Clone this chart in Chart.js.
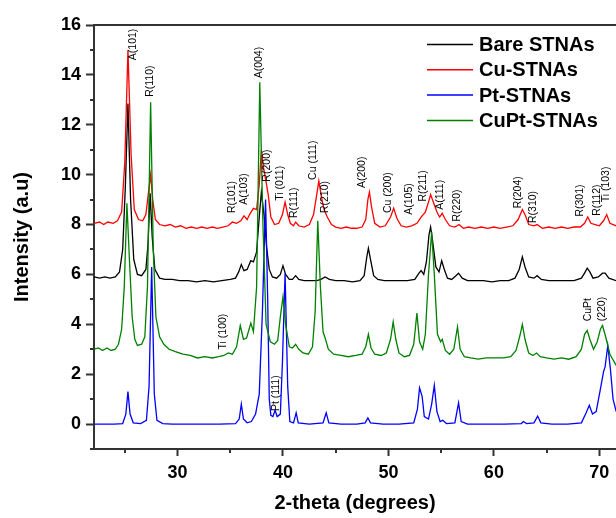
<!DOCTYPE html>
<html lang="en">
<head>
<meta charset="UTF-8">
<title>XRD patterns of STNAs</title>
<style>
  html, body { margin: 0; padding: 0; background: #fff; }
  #wrap { width: 616px; height: 518px; }
</style>
</head>
<body>
<div id="wrap"><canvas id="xrdChart" width="616" height="518"></canvas></div>
<script src="https://cdn.jsdelivr.net/npm/chart.js"></script>
<script>
// [2-theta, intensity] pairs (curves already stacked with offsets)
const bareSTNAs = [
  [22.1, 5.9], [22.6, 5.85], [23.1, 5.9], [23.6, 5.85], [24.1, 5.9], [24.5, 6.1], [24.8, 7.0], [25.05, 9.5],
  [25.3, 12.85], [25.55, 9.0], [25.85, 6.6], [26.2, 6.0], [26.6, 5.95], [27.0, 6.2], [27.2, 7.2], [27.4, 9.25],
  [27.6, 7.5], [27.85, 6.2], [28.3, 5.85], [28.8, 5.8], [29.5, 5.8], [30.2, 5.75], [31.0, 5.75], [31.8, 5.7],
  [32.6, 5.75], [33.4, 5.7], [34.2, 5.75], [35.0, 5.8], [35.5, 5.85], [35.8, 6.1], [36.05, 6.4], [36.3, 6.15],
  [36.6, 6.2], [36.95, 6.55], [37.2, 6.5], [37.5, 6.9], [37.75, 8.3], [37.95, 9.3], [38.2, 8.4], [38.45, 7.1],
  [38.7, 6.2], [39.0, 5.9], [39.4, 5.85], [39.75, 6.0], [40.0, 6.35], [40.25, 6.0], [40.6, 5.8], [40.9, 5.8],
  [41.2, 5.95], [41.5, 5.8], [42.0, 5.75], [42.6, 5.75], [43.2, 5.75], [43.6, 5.8], [44.0, 5.9], [44.4, 5.8],
  [45.0, 5.75], [45.8, 5.75], [46.6, 5.7], [47.3, 5.75], [47.7, 5.95], [47.95, 6.7], [48.1, 7.05], [48.3, 6.6],
  [48.6, 5.95], [49.0, 5.8], [49.6, 5.75], [50.3, 5.75], [51.0, 5.75], [51.8, 5.75], [52.5, 5.8], [52.9, 6.05],
  [53.1, 6.15], [53.35, 6.0], [53.6, 6.5], [53.85, 7.6], [54.0, 7.9], [54.2, 7.3], [54.5, 6.3], [54.8, 6.1],
  [55.05, 6.55], [55.3, 6.2], [55.6, 5.85], [56.0, 5.8], [56.4, 5.95], [56.65, 6.05], [57.0, 5.85], [57.5, 5.75],
  [58.2, 5.75], [59.0, 5.75], [59.8, 5.7], [60.6, 5.75], [61.4, 5.75], [62.0, 5.85], [62.4, 6.2], [62.7, 6.7],
  [62.95, 6.3], [63.3, 5.9], [63.8, 5.85], [64.1, 5.95], [64.5, 5.8], [65.2, 5.75], [66.0, 5.75], [66.8, 5.75],
  [67.6, 5.75], [68.3, 5.85], [68.6, 6.05], [68.85, 6.25], [69.1, 6.1], [69.4, 5.85], [69.9, 5.9], [70.3, 6.05],
  [70.55, 6.05], [70.9, 5.85], [71.6, 5.75]
];

const cuSTNAs = [
  [22.1, 8.05], [22.6, 8.1], [23.0, 8.0], [23.4, 8.1], [23.9, 8.05], [24.3, 8.15], [24.7, 8.5], [25.0, 10.5],
  [25.3, 15.0], [25.6, 10.8], [25.9, 8.6], [26.3, 8.2], [26.7, 8.15], [27.0, 8.4], [27.25, 9.3], [27.45, 10.0],
  [27.65, 9.0], [27.9, 8.2], [28.3, 8.0], [28.8, 7.95], [29.3, 8.0], [29.8, 7.9], [30.3, 7.95], [30.8, 7.85],
  [31.3, 7.9], [31.8, 7.85], [32.3, 7.9], [32.8, 7.85], [33.3, 7.9], [33.8, 7.85], [34.3, 7.9], [34.8, 7.95],
  [35.2, 8.1], [35.6, 8.05], [36.0, 8.15], [36.3, 8.35], [36.6, 8.2], [36.9, 8.45], [37.2, 8.65], [37.5, 8.6],
  [37.75, 9.6], [37.95, 11.0], [38.15, 10.3], [38.4, 9.7], [38.6, 9.2], [38.85, 8.3], [39.2, 8.0], [39.6, 8.05],
  [39.95, 8.4], [40.2, 8.9], [40.45, 8.4], [40.7, 8.05], [41.0, 7.95], [41.2, 8.1], [41.5, 7.95], [42.0, 7.9],
  [42.5, 8.0], [42.9, 8.4], [43.2, 9.2], [43.4, 9.75], [43.65, 9.1], [43.9, 8.6], [44.2, 8.3], [44.6, 8.0],
  [45.0, 7.9], [45.5, 7.85], [46.0, 7.9], [46.5, 7.85], [47.0, 7.85], [47.5, 7.9], [47.85, 8.2], [48.05, 9.0],
  [48.2, 9.3], [48.4, 8.7], [48.7, 8.05], [49.2, 7.9], [49.7, 7.95], [50.2, 8.3], [50.5, 8.65], [50.8, 8.25],
  [51.2, 7.95], [51.7, 7.9], [52.2, 7.95], [52.7, 8.05], [53.1, 8.3], [53.5, 8.5], [53.8, 8.9], [54.0, 9.2],
  [54.3, 8.85], [54.6, 8.5], [54.85, 8.3], [55.1, 8.45], [55.4, 8.2], [55.8, 7.95], [56.3, 7.9], [56.7, 8.0],
  [57.1, 7.85], [57.6, 7.9], [58.2, 7.85], [58.8, 7.9], [59.4, 7.85], [60.0, 7.9], [60.6, 7.85], [61.2, 7.9],
  [61.8, 7.95], [62.3, 8.2], [62.7, 8.6], [63.0, 8.35], [63.3, 8.0], [63.8, 7.95], [64.1, 8.0], [64.6, 7.85],
  [65.2, 7.9], [65.8, 7.85], [66.4, 7.9], [67.0, 7.85], [67.6, 7.9], [68.2, 7.9], [68.6, 8.05], [68.9, 8.3],
  [69.2, 8.05], [69.6, 8.0], [70.0, 7.95], [70.4, 8.15], [70.7, 8.4], [71.0, 8.05], [71.6, 7.95]
];

const ptSTNAs = [
  [22.1, 0.0], [23.0, 0.0], [24.0, 0.0], [24.8, 0.02], [25.1, 0.4], [25.3, 1.3], [25.5, 0.4], [25.8, 0.05],
  [26.5, 0.02], [27.05, 0.15], [27.3, 1.5], [27.55, 6.3], [27.8, 1.2], [28.05, 0.15], [28.6, 0.02], [29.5, 0.0],
  [31.0, 0.0], [32.5, 0.0], [34.0, 0.0], [35.5, 0.02], [35.85, 0.2], [36.05, 0.8], [36.25, 0.2], [36.6, 0.05],
  [37.0, 0.1], [37.4, 0.4], [37.75, 1.2], [38.05, 4.5], [38.35, 9.0], [38.55, 5.0], [38.7, 1.0], [38.85, 0.35],
  [39.05, 0.3], [39.25, 0.55], [39.45, 0.3], [39.75, 0.4], [39.95, 2.5], [40.2, 6.05], [40.45, 1.5], [40.65, 0.1],
  [41.0, 0.05], [41.25, 0.45], [41.45, 0.05], [42.5, 0.0], [43.8, 0.05], [44.1, 0.45], [44.35, 0.05], [45.5, 0.0],
  [47.0, 0.0], [47.8, 0.05], [48.05, 0.25], [48.3, 0.05], [49.5, 0.0], [51.0, 0.0], [52.4, 0.05], [52.75, 0.6],
  [52.95, 1.45], [53.2, 1.1], [53.4, 0.3], [53.8, 0.2], [54.1, 0.8], [54.35, 1.55], [54.6, 0.5], [54.9, 0.1],
  [55.15, 0.15], [55.5, 0.02], [56.3, 0.05], [56.65, 0.85], [56.9, 0.1], [57.5, 0.0], [59.0, 0.0], [61.0, 0.0],
  [62.6, 0.02], [62.8, 0.1], [63.1, 0.02], [63.8, 0.05], [64.15, 0.32], [64.45, 0.05], [65.5, 0.0], [67.0, 0.0],
  [68.3, 0.05], [68.75, 0.45], [69.05, 0.75], [69.35, 0.4], [69.7, 0.5], [70.1, 1.4], [70.4, 2.1], [70.55, 2.3],
  [70.8, 3.15], [71.05, 2.2], [71.3, 1.0], [71.6, 0.5]
];

const cuptSTNAs = [
  [22.1, 3.0], [22.5, 3.05], [22.9, 2.95], [23.3, 3.05], [23.7, 2.95], [24.1, 3.0], [24.4, 3.2], [24.7, 3.8],
  [24.95, 5.5], [25.2, 8.85], [25.45, 6.5], [25.7, 4.3], [25.95, 3.4], [26.2, 3.15], [26.6, 3.2], [26.9, 3.5],
  [27.15, 5.5], [27.45, 12.9], [27.7, 7.0], [27.95, 4.3], [28.3, 3.5], [28.7, 3.2], [29.2, 3.0], [29.8, 2.9],
  [30.5, 2.8], [31.2, 2.75], [31.9, 2.65], [32.6, 2.7], [33.3, 2.65], [33.9, 2.7], [34.4, 2.75], [34.8, 2.85],
  [35.2, 2.8], [35.6, 3.1], [35.95, 3.95], [36.25, 3.4], [36.55, 3.45], [36.95, 4.05], [37.2, 3.7], [37.5, 5.5],
  [37.8, 13.7], [38.1, 8.0], [38.4, 4.0], [38.8, 3.3], [39.2, 3.2], [39.5, 3.35], [39.75, 4.3], [40.0, 5.1],
  [40.25, 4.0], [40.6, 3.1], [40.9, 3.05], [41.2, 3.2], [41.5, 3.0], [41.9, 2.85], [42.4, 2.8], [42.8, 3.1],
  [43.05, 4.5], [43.3, 8.15], [43.55, 5.5], [43.8, 3.7], [44.0, 3.45], [44.3, 3.0], [44.8, 2.8], [45.5, 2.75],
  [46.2, 2.7], [46.9, 2.75], [47.5, 2.8], [47.85, 3.1], [48.1, 3.6], [48.35, 3.05], [48.7, 2.8], [49.3, 2.75],
  [49.8, 2.85], [50.2, 3.4], [50.45, 4.1], [50.7, 3.4], [51.0, 2.85], [51.5, 2.7], [52.0, 2.75], [52.4, 3.2],
  [52.7, 4.45], [52.95, 3.3], [53.25, 3.0], [53.5, 3.6], [53.8, 6.0], [54.1, 7.7], [54.35, 6.0], [54.65, 3.6],
  [54.95, 3.3], [55.1, 3.4], [55.4, 2.95], [55.8, 2.8], [56.2, 3.0], [56.55, 3.9], [56.8, 3.0], [57.2, 2.7],
  [57.8, 2.65], [58.5, 2.6], [59.3, 2.65], [60.1, 2.65], [60.9, 2.65], [61.6, 2.7], [62.1, 2.95], [62.5, 3.6],
  [62.7, 4.0], [62.95, 3.4], [63.3, 2.85], [63.7, 2.75], [64.05, 2.85], [64.4, 2.7], [65.0, 2.65], [65.7, 2.6],
  [66.4, 2.65], [67.1, 2.6], [67.8, 2.7], [68.3, 3.0], [68.6, 3.6], [68.85, 3.75], [69.1, 3.4], [69.45, 3.0],
  [69.8, 3.3], [70.1, 3.8], [70.3, 3.95], [70.6, 3.5], [71.0, 2.8], [71.6, 2.35]
];

const xTicks = [25, 30, 35, 40, 45, 50, 55, 60, 65, 70];
const yTicks = [-1, 0, 1, 2, 3, 4, 5, 6, 7, 8, 9, 10, 11, 12, 13, 14, 15, 16];

// peak labels: [text, 2-theta, intensity where the vertical text begins]
const peakLabels = [
  ['A(101)', 25.76, 14.59], ['R(110)', 27.37, 13.12], ['A(004)', 37.74, 13.86],
  ['R(101)', 35.18, 8.46], ['A(103)', 36.32, 8.79], ['R(200)', 38.54, 9.72],
  ['Ti (011)', 39.77, 8.95], ['R(111)', 41.03, 8.26], ['Cu (111)', 42.87, 9.79],
  ['R(210)', 43.98, 8.46], ['A(200)', 47.46, 9.46], ['Cu (200)', 49.98, 8.46],
  ['A(105)', 51.94, 8.39], ['R(211)', 53.3, 8.92], ['A(111)', 54.89, 8.59],
  ['R(220)', 56.47, 8.12], ['R(204)', 62.32, 8.65], ['R(310)', 63.74, 8.06],
  ['R(301)', 68.17, 8.32], ['R(112)', 69.75, 8.35], ['Ti (103)', 70.64, 8.89],
  ['Ti (100)', 34.33, 2.99], ['Pt (111)', 39.33, 0.52], ['CuPt', 68.96, 4.12], ['(220)', 70.29, 4.12]
];

const FONT = "'Liberation Sans', Arial, sans-serif";

const toPoints = arr => arr.map(p => ({ x: p[0], y: p[1] }));

// vertical peak labels, positioned through the scales
const peakLabelPlugin = {
  id: 'peakLabels',
  afterDatasetsDraw(chart) {
    const { ctx, scales: { x, y } } = chart;
    ctx.save();
    ctx.fillStyle = '#000';
    ctx.font = '10.5px ' + FONT;
    ctx.textAlign = 'left';
    ctx.textBaseline = 'middle';
    peakLabels.forEach(([text, tx, ty]) => {
      ctx.save();
      ctx.translate(x.getPixelForValue(tx), y.getPixelForValue(ty));
      ctx.rotate(-Math.PI / 2);
      ctx.fillText(text, 0, 0);
      ctx.restore();
    });
    ctx.restore();
  }
};

// top frame line, minor ticks and the in-plot legend
const framePlugin = {
  id: 'frame',
  afterDraw(chart) {
    const { ctx, chartArea: a, scales: { x, y } } = chart;
    ctx.save();
    ctx.strokeStyle = '#333';
    ctx.lineWidth = 2;
    ctx.beginPath();
    ctx.moveTo(a.left - 1, a.top);
    ctx.lineTo(a.right, a.top);
    ctx.stroke();

    ctx.beginPath();
    xTicks.filter(v => v % 10 !== 0).forEach(v => {
      const px = Math.round(x.getPixelForValue(v));
      ctx.moveTo(px, a.bottom);
      ctx.lineTo(px, a.bottom + 4);
    });
    yTicks.filter(v => v % 2 !== 0).forEach(v => {
      const py = Math.round(y.getPixelForValue(v));
      ctx.moveTo(a.left, py);
      ctx.lineTo(a.left - 4, py);
    });
    ctx.stroke();

    // legend
    ctx.font = 'bold 20px ' + FONT;
    ctx.textAlign = 'left';
    ctx.textBaseline = 'middle';
    chart.data.datasets.forEach((ds, i) => {
      const ly = a.top + 19.5 + i * 25.3;
      ctx.strokeStyle = ds.borderColor;
      ctx.lineWidth = 1.5;
      ctx.beginPath();
      ctx.moveTo(a.right - 189, ly);
      ctx.lineTo(a.right - 143, ly);
      ctx.stroke();
      ctx.fillStyle = '#000';
      ctx.fillText(ds.label, a.right - 137, ly + 1);
    });
    ctx.restore();
  }
};

function renderChart() {
  const ctx = document.getElementById('xrdChart').getContext('2d');
  new Chart(ctx, {
    type: 'line',
    data: {
      datasets: [
        { label: 'Bare STNAs', data: toPoints(bareSTNAs), borderColor: '#000000', order: 4 },
        { label: 'Cu-STNAs', data: toPoints(cuSTNAs), borderColor: '#ff0000', order: 3 },
        { label: 'Pt-STNAs', data: toPoints(ptSTNAs), borderColor: '#0000ff', order: 2 },
        { label: 'CuPt-STNAs', data: toPoints(cuptSTNAs), borderColor: '#008000', order: 1 }
      ]
    },
    options: {
      responsive: false,
      animation: false,
      parsing: false,
      datasets: { line: { borderWidth: 1.3, pointRadius: 0, tension: 0, fill: false } },
      layout: { padding: { top: 25, right: 0, left: 0, bottom: 0 } },
      plugins: { legend: { display: false }, tooltip: { enabled: false } },
      scales: {
        x: {
          type: 'linear',
          min: 22.08,
          max: 71.58,
          afterBuildTicks: s => { s.ticks = xTicks.map(v => ({ value: v })); },
          afterFit: s => { s.height = 69; },
          border: { color: '#333', width: 2 },
          grid: {
            drawOnChartArea: false,
            tickLength: 7,
            tickWidth: 2,
            tickColor: c => (c.tick && c.tick.value % 10 === 0) ? '#333' : 'rgba(0,0,0,0)'
          },
          ticks: {
            autoSkip: false,
            maxRotation: 0,
            padding: 6,
            color: '#000',
            font: { family: FONT, size: 18, weight: 'bold' },
            callback: v => (v % 10 === 0 ? v : '')
          },
          title: {
            display: true,
            text: '2-theta (degrees)',
            color: '#000',
            font: { family: FONT, size: 20, weight: 'bold' },
            padding: { top: 0, bottom: 3 }
          }
        },
        y: {
          min: -1,
          max: 16,
          afterBuildTicks: s => { s.ticks = yTicks.map(v => ({ value: v })); },
          afterFit: s => { s.width = 94; },
          border: { color: '#333', width: 2 },
          grid: {
            drawOnChartArea: false,
            tickLength: 8,
            tickWidth: 2,
            tickColor: c => (c.tick && c.tick.value % 2 === 0) ? '#333' : 'rgba(0,0,0,0)'
          },
          ticks: {
            padding: 5,
            color: '#000',
            font: { family: FONT, size: 18, weight: 'bold' },
            callback: v => (v >= 0 && v % 2 === 0 ? v : '')
          },
          title: {
            display: true,
            text: 'Intensity (a.u)',
            color: '#000',
            font: { family: FONT, size: 20, weight: 'bold' },
            padding: { top: 10, bottom: 0 }
          }
        }
      }
    },
    plugins: [peakLabelPlugin, framePlugin]
  });
}

document.addEventListener('DOMContentLoaded', renderChart);
</script>
</body>
</html>
